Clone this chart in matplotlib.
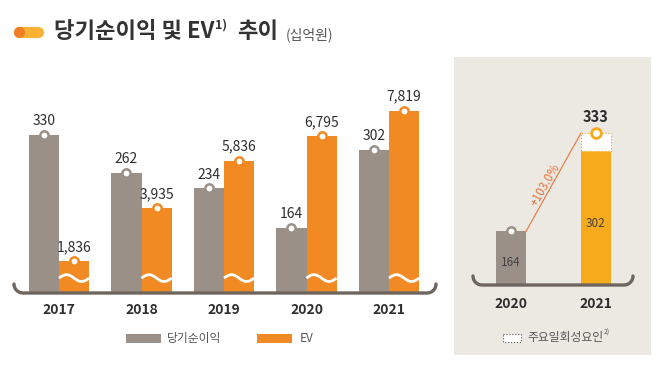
import numpy as np
import matplotlib
matplotlib.use('Agg')
import matplotlib.pyplot as plt
import matplotlib.transforms as mtrans
from matplotlib.patches import Rectangle

plt.rcParams['font.family'] = ['Noto Sans CJK KR', 'DejaVu Sans']

# data
years = ['2017', '2018', '2019', '2020', '2021']
net_income = [330, 262, 234, 164, 302]
ev = [1836, 3935, 5836, 6795, 7819]

years_r = ['2020', '2021']
income_r = [164, 302]
income_r_adj = 333
growth_label = '+103.0%'

GRAY = '#9b9087'
ORANGE = '#f28a24'
YELLOW = '#f6aa1c'
DARK = '#6e655e'
TXT = '#2e2e2e'
BG = '#ece9e3'

W, H = 667, 366
fig = plt.figure(figsize=(W / 100, H / 100), dpi=100)


def fx(x):
    return x / W


def fy(y):
    return 1 - y / H


def rect(x0, y0, x1, y1):
    # pixel box (top-left origin) -> figure fraction rect
    return [fx(x0), fy(y1), fx(x1) - fx(x0), fy(y0) - fy(y1)]


# background overlay (pixel coords)
bg = fig.add_axes([0, 0, 1, 1], zorder=0)
bg.set_xlim(0, W)
bg.set_ylim(H, 0)
bg.axis('off')
bg.add_patch(Rectangle((454, 57), 197, 298, color=BG, lw=0))

# ---------------- left chart ----------------
bw = 0.364
x = np.arange(len(years))
ax = fig.add_axes(rect(10, 80, 440, 293), zorder=2)
ax.set_facecolor('none')
ax.set_xlim(-0.594, 4.618)
ax.set_ylim(48, 427)
ax2 = ax.twinx()
ax2.set_facecolor('none')
ax2.set_ylim(570, 9036)

ax.bar(x - bw / 2, net_income, bw, color=GRAY, zorder=2)
ax2.bar(x + bw / 2, ev, bw, color=ORANGE, zorder=2)

ax.plot(x - bw / 2, net_income, 'o', ms=6, mfc='white', mec=GRAY, mew=1.8,
        clip_on=False, zorder=3)
ax2.plot(x + bw / 2, ev, 'o', ms=6, mfc='white', mec=ORANGE, mew=1.8,
         clip_on=False, zorder=3)

for xi, v in zip(x, net_income):
    ax.annotate(f'{v:,}', (xi - bw / 2, v), xytext=(0, 5), textcoords='offset points',
                ha='center', va='bottom', fontsize=10, color=TXT)
for xi, v in zip(x, ev):
    ax2.annotate(f'{v:,}', (xi + bw / 2, v), xytext=(0, 5), textcoords='offset points',
                 ha='center', va='bottom', fontsize=10, color=TXT)

# axis-break waves on EV bars
tr = mtrans.blended_transform_factory(ax2.transData, ax2.transAxes)
t = np.linspace(0, 1, 50)
for xi in x:
    ax2.plot(xi + t * bw, 0.07 + 0.016 * np.sin(2 * np.pi * t), color='white',
             lw=2, transform=tr, zorder=4, solid_capstyle='butt')

ax.set_xticks(x)
ax.set_xticklabels(years, fontsize=10, fontweight='bold', color=TXT)
ax.tick_params(axis='x', length=0, pad=7)
ax.set_yticks([])
ax2.set_yticks([])
for a in (ax, ax2):
    for s in a.spines.values():
        s.set_visible(False)

# ---------------- right chart ----------------
bw_r = 0.353
xr = np.arange(len(years_r))
axr = fig.add_axes(rect(473, 80, 633, 285), zorder=2)
axr.set_facecolor('none')
axr.set_xlim(-0.447, 1.435)
axr.set_ylim(72, 424)
axr.bar(xr, income_r, bw_r, color=[GRAY, YELLOW], zorder=2)
axr.bar(xr[1], income_r_adj - income_r[1], bw_r, bottom=income_r[1], facecolor='white',
        edgecolor=YELLOW, ls=':', lw=0.8, zorder=2)
axr.plot(xr[0], income_r[0], 'o', ms=6, mfc='white', mec=GRAY, mew=1.8,
         clip_on=False, zorder=3)
axr.plot(xr[1], income_r_adj, 'o', ms=7, mfc='white', mec=YELLOW, mew=2,
         clip_on=False, zorder=3)

axr.text(xr[0], 111, f'{income_r[0]}', ha='center', va='center',
         fontsize=8.5, color='#444444')
axr.text(xr[1], 178, f'{income_r[1]}', ha='center', va='center',
         fontsize=8.5, color='#444444')
axr.annotate(f'{income_r_adj}', (xr[1], income_r_adj), xytext=(0, 6),
             textcoords='offset points', ha='center', va='bottom', fontsize=10.5,
             fontweight='bold', color=TXT)

axr.plot([xr[0] + bw_r / 2, xr[1] - bw_r / 2], [income_r[0], income_r_adj],
         color='#e8743b', lw=0.8, zorder=1)
axr.text(0.4, 244, growth_label, rotation=60, ha='center', va='center',
         fontsize=8.5, color='#e8743b')

axr.set_xticks(xr)
axr.set_xticklabels(years_r, fontsize=10, fontweight='bold', color=TXT)
axr.tick_params(axis='x', length=0, pad=9)
axr.set_yticks([])
for s in axr.spines.values():
    s.set_visible(False)

# ---------------- foreground decorations ----------------
fg = fig.add_axes([0, 0, 1, 1], zorder=5)
fg.set_xlim(0, W)
fg.set_ylim(H, 0)
fg.axis('off')


def bracket(x0, x1, y, r=9):
    th1 = np.linspace(np.pi, np.pi / 2, 20)
    th2 = np.linspace(np.pi / 2, 0, 20)
    xs = np.concatenate([x0 + r + r * np.cos(th1), x1 - r + r * np.cos(th2)])
    ys = np.concatenate([y - r + r * np.sin(th1), y - r + r * np.sin(th2)])
    fg.plot(xs, ys, color=DARK, lw=2.4, solid_capstyle='round')


bracket(14, 436, 293)
bracket(473, 633, 285)

# title, pieces chained left to right
fg.plot([19, 38], [32, 32], color='#f9b233', lw=8, solid_capstyle='round')
fg.plot([19], [32], 'o', ms=8, color='#f07e26', mew=0)

renderer = fig.canvas.get_renderer()
inv = fg.transData.inverted()


def right_edge(txt):
    bb = txt.get_window_extent(renderer)
    return inv.transform((bb.x1, bb.y0))[0]


t1 = fg.text(54, 32, '당기순이익 및 EV', fontsize=16, fontweight='bold', color='#333333',
             va='center', ha='left')
t2 = fg.text(right_edge(t1) + 1, 25, '1)', fontsize=9, fontweight='bold', color='#333333',
             va='center', ha='left')
t3 = fg.text(right_edge(t2) + 10, 32, '추이', fontsize=16, fontweight='bold', color='#333333',
             va='center', ha='left')
fg.text(right_edge(t3) + 7, 35, '(십억원)', fontsize=10, color='#555555',
        va='center', ha='left')

# legends
fg.add_patch(Rectangle((126, 334), 35, 9, color=GRAY, lw=0))
fg.text(167, 338.5, '당기순이익', fontsize=8.5, color='#555555', va='center')
fg.add_patch(Rectangle((257, 334), 35, 9, color=ORANGE, lw=0))
fg.text(300, 338.5, 'EV', fontsize=8.5, color='#555555', va='center')
fg.add_patch(Rectangle((503, 334), 18, 8, facecolor='white', edgecolor='#555555',
                       ls=':', lw=0.8))
t4 = fg.text(527, 338, '주요일회성요인', fontsize=8.5, color='#555555', va='center')
fg.text(right_edge(t4) + 1, 333, '2)', fontsize=5, color='#555555', va='center')

fig.savefig('out.png', dpi=100)
